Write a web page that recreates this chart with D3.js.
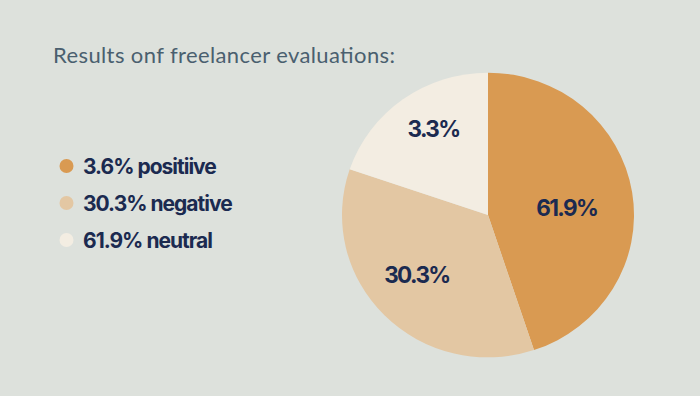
<!DOCTYPE html>
<html>
<head>
<meta charset="utf-8">
<script src="https://cdn.jsdelivr.net/npm/d3@7"></script>
<style>
  html, body { margin: 0; padding: 0; background: #dde1dc; }
  svg { display: block; }
</style>
</head>
<body>
<script>
// values
const title = 'Results onf freelancer evaluations:'
const legendLabels = ['3.6% positiive', '30.3% negative', '61.9% neutral']
const sliceLabels = ['61.9%', '30.3%', '3.3%']
const sliceShares = [44.9, 35.3, 19.8]
const sliceColors = ['#d99a52', '#e3c7a3', '#f3ede2']

const width = 700
const height = 396
const colors = {
  bg: '#dde1dc',
  title: '#4a5f6f',
  text: '#1b2a50'
}

const svg = d3.select('body').append('svg')
  .attr('width', width)
  .attr('height', height)

svg.append('rect')
  .attr('width', width)
  .attr('height', height)
  .attr('fill', colors.bg)

// title
svg.append('text')
  .attr('x', 53)
  .attr('y', 63)
  .attr('fill', colors.title)
  .attr('textLength', 342)
  .attr('lengthAdjust', 'spacing')
  .style('font-family', 'Lato, sans-serif')
  .style('font-size', '22px')
  .style('font-weight', 400)
  .text(title)

// legend
const legendY = d3.scalePoint()
  .domain(legendLabels)
  .range([166, 240])

const legend = svg.selectAll('g.legend')
  .data(legendLabels)
  .enter()
  .append('g')
  .attr('class', 'legend')
  .attr('transform', d => `translate(66.5, ${legendY(d)})`)

legend.append('circle')
  .attr('r', 7)
  .attr('fill', (d, i) => sliceColors[i])

legend.append('text')
  .attr('x', 16.5)
  .attr('dy', '0.36em')
  .attr('fill', colors.text)
  .style('font-family', 'Inter, sans-serif')
  .style('font-size', '21px')
  .style('font-weight', 700)
  .style('letter-spacing', '-1px')
  .text(d => d)

// pie
const cx = 488
const cy = 215
const squash = 0.975
const radius = 146
const pie = d3.pie().sort(null)
const arcs = pie(sliceShares)
const arc = d3.arc().innerRadius(0).outerRadius(radius)

const g = svg.append('g')
  .attr('transform', `translate(${cx}, ${cy}) scale(1, ${squash})`)

g.selectAll('path.slice')
  .data(arcs)
  .enter()
  .append('path')
  .attr('class', 'slice')
  .attr('d', arc)
  .attr('fill', (d, i) => sliceColors[i])

// labels sit a little clockwise of each slice middle, at varying depth
const labelRadius = [79, 94, 104]
const labelPos = (d, i) => {
  const a = (d.startAngle + d.endAngle) / 2 + 0.07
  return [cx + labelRadius[i] * Math.sin(a), cy - labelRadius[i] * Math.cos(a) * squash]
}

svg.selectAll('text.slice-label')
  .data(arcs)
  .enter()
  .append('text')
  .attr('class', 'slice-label')
  .attr('x', (d, i) => labelPos(d, i)[0])
  .attr('y', (d, i) => labelPos(d, i)[1])
  .attr('text-anchor', 'middle')
  .attr('dy', '0.36em')
  .attr('fill', colors.text)
  .style('font-family', 'Inter, sans-serif')
  .style('font-size', '22.5px')
  .style('font-weight', 700)
  .style('letter-spacing', '-1.6px')
  .text((d, i) => sliceLabels[i])
</script>
</body>
</html>
